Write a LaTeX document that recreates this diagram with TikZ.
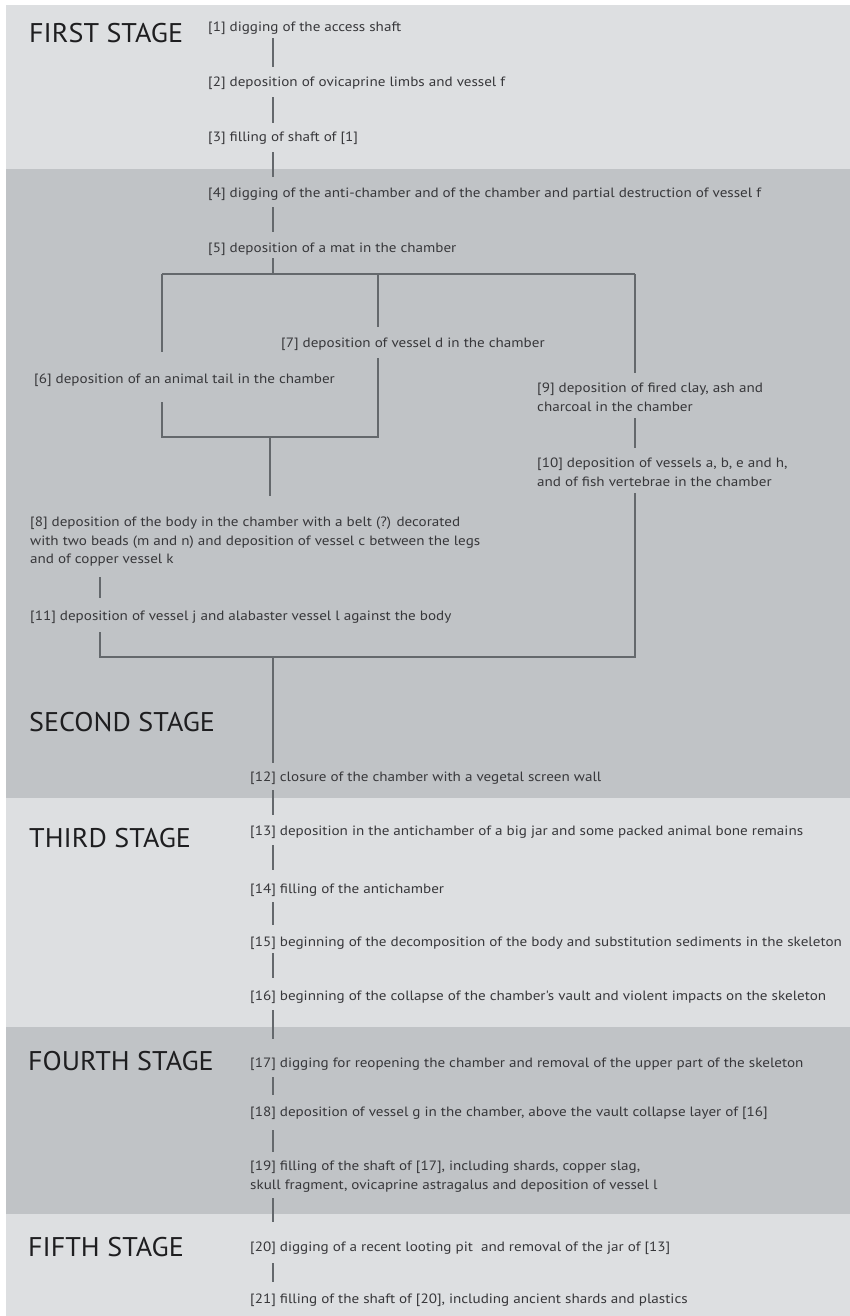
\documentclass[tikz,border=0pt]{standalone}
\usepackage{fontspec}
\setmainfont{PT Sans}
\newfontfamily\evfont[FakeStretch=1.12]{PT Sans}
\newfontfamily\stfont[FakeStretch=1.04]{PT Sans}
\definecolor{lightb}{RGB}{221,223,225}
\definecolor{darkb}{RGB}{192,195,198}
\definecolor{txtc}{RGB}{55,55,58}
\definecolor{headc}{RGB}{30,30,32}
\definecolor{linec}{RGB}{100,104,108}
\newcommand\tb[1]{\begin{tabular}[t]{@{}l@{}}#1\end{tabular}}
\newcommand\lnk[5]{\draw[conn] ([yshift=-#3pt]#1.south -| #5) -- ([yshift=#4pt]#2.north -| #5);}
\begin{document}
\begin{tikzpicture}[x=1pt,y=-1pt,
  txt/.style={anchor=base west, inner sep=0pt, text=txtc, font=\evfont\fontsize{13.5}{18.5}\selectfont},
  stage/.style={anchor=base west, inner sep=0pt, text=headc, font=\stfont\fontsize{27}{30}\selectfont},
  conn/.style={draw=linec, line width=1.1pt}]
\useasboundingbox (0,0) rectangle (850,1316);
\fill[white] (0,0) rectangle (850,1316);
\fill[lightb] (6,5) rectangle (850,169);
\fill[darkb] (6,169) rectangle (850,798);
\fill[lightb] (6,798) rectangle (850,1027);
\fill[darkb] (6,1027) rectangle (850,1214);
\fill[lightb] (6,1214) rectangle (850,1316);

% stage headings
\node[stage] (s1) at (29,43) {FIRST STAGE};
\node[stage] (s2) at (29,731) {SECOND STAGE};
\node[stage] (s3) at (29,847) {THIRD STAGE};
\node[stage] (s4) at (28,1070) {FOURTH STAGE};
\node[stage] (s5) at (28,1256) {FIFTH STAGE};

% events
\node[txt] (n1) at (208,31.5) {\tb{[1] digging of the access shaft}};
\node[txt] (n2) at (208,86.5) {\tb{[2] deposition of ovicaprine limbs and vessel f}};
\node[txt] (n3) at (208,141.5) {\tb{[3] filling of shaft of [1]}};
\node[txt] (n4) at (208,197.5) {\tb{[4] digging of the anti-chamber and of the chamber and partial destruction of vessel f}};
\node[txt] (n5) at (208,252.5) {\tb{[5] deposition of a mat in the chamber}};
\node[txt] (n6) at (34,383.5) {\tb{[6] deposition of an animal tail in the chamber}};
\node[txt] (n7) at (281,347.5) {\tb{[7] deposition of vessel d in the chamber}};
\node[txt] (n8) at (30,526.5) {\tb{[8] deposition of the body in the chamber with a belt (?) decorated\\with two beads (m and n) and deposition of vessel c between the legs\\and of copper vessel k}};
\node[txt] (n9) at (537,392.5) {\tb{[9] deposition of fired clay, ash and\\charcoal in the chamber}};
\node[txt] (n10) at (537,467.5) {\tb{[10] deposition of vessels a, b, e and h,\\and of fish vertebrae in the chamber}};
\node[txt] (n11) at (30,620.5) {\tb{[11] deposition of vessel j and alabaster vessel l against the body}};
\node[txt] (n12) at (250,781.5) {\tb{[12] closure of the chamber with a vegetal screen wall}};
\node[txt] (n13) at (250,835.5) {\tb{[13] deposition in the antichamber of a big jar and some packed animal bone remains}};
\node[txt] (n14) at (250,893.5) {\tb{[14] filling of the antichamber}};
\node[txt] (n15) at (250,946.5) {\tb{[15] beginning of the decomposition of the body and substitution sediments in the skeleton}};
\node[txt] (n16) at (250,1000.5) {\tb{[16] beginning of the collapse of the chamber's vault and violent impacts on the skeleton}};
\node[txt] (n17) at (250,1067.5) {\tb{[17] digging for reopening the chamber and removal of the upper part of the skeleton}};
\node[txt] (n18) at (250,1116.5) {\tb{[18] deposition of vessel g in the chamber, above the vault collapse layer of [16]}};
\node[txt] (n19) at (250,1170.5) {\tb{[19] filling of the shaft of [17], including shards, copper slag,\\skull fragment, ovicaprine astragalus and deposition of vessel l}};
\node[txt] (n20) at (250,1251.5) {\tb{[20] digging of a recent looting pit\ \ and removal of the jar of [13]}};
\node[txt] (n21) at (250,1303.5) {\tb{[21] filling of the shaft of [20], including ancient shards and plastics}};

% connector columns and junctions
\coordinate (sp) at (273,0);
\coordinate (ja) at (162,274);
\coordinate (jb) at (378,274);
\coordinate (jc) at (635,274);
\coordinate (ka) at (162,437);
\coordinate (kb) at (378,437);
\coordinate (kc) at (270,437);
\coordinate (ma) at (100,657);
\coordinate (mb) at (635,657);
\coordinate (mc) at (273,657);
\coordinate (ea) at (100,0);

% first stage
\lnk{n1}{n2}{1}{6.5}{sp}
\lnk{n2}{n3}{5}{5.5}{sp}
\lnk{n3}{n4}{5}{7.5}{sp}
\lnk{n4}{n5}{4}{7.5}{sp}
% branching
\draw[conn] (n5.south -| sp) -- (sp |- ja);
\draw[conn] (ja) -- (jc);
\draw[conn] (ja) -- ([yshift=18.5pt]n6.north -| ja);
\draw[conn] (jb) -- ([yshift=7.5pt]n7.north -| jb);
\draw[conn] (jc) -- ([yshift=6.5pt]n9.north -| jc);
\draw[conn] ([yshift=-13pt]n6.south -| ka) -- (ka) -- (kb) -- ([yshift=-5pt]n7.south -| kb);
\draw[conn] (kc) -- ([yshift=17.5pt]n8.north -| kc);
\lnk{n9}{n10}{1.5}{6.5}{jc}
\lnk{n8}{n11}{8}{9.5}{ea}
\draw[conn] ([yshift=-6pt]n11.south -| ma) -- (ma) -- (mb) -- ([yshift=-1.5pt]n10.south -| mb);
\draw[conn] (mc) -- ([yshift=5.5pt]n12.north -| mc);
% later stages
\lnk{n12}{n13}{3}{7.5}{sp}
\lnk{n13}{n14}{4}{10.5}{sp}
\lnk{n14}{n15}{3}{8.5}{sp}
\lnk{n15}{n16}{1}{9.5}{sp}
\lnk{n16}{n17}{4}{15.5}{sp}
\lnk{n17}{n18}{4}{8.5}{sp}
\lnk{n18}{n19}{8}{5.5}{sp}
\lnk{n19}{n20}{3.5}{16.5}{sp}
\lnk{n20}{n21}{6}{8.5}{sp}
\end{tikzpicture}
\end{document}
